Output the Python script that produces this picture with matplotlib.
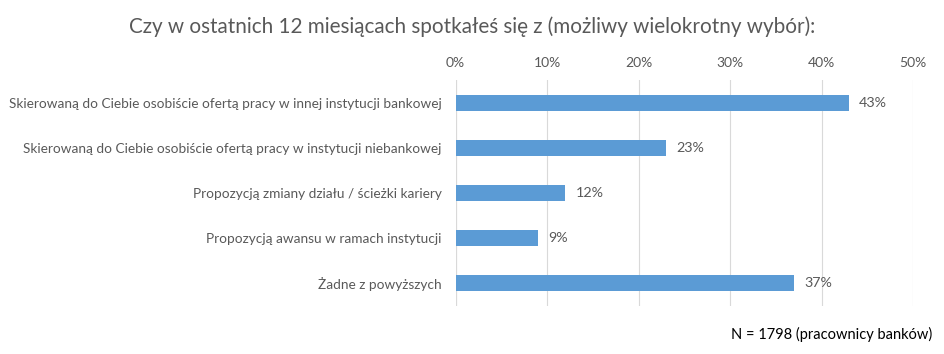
import matplotlib.pyplot as plt
from matplotlib.ticker import FuncFormatter

categories = [
    'Skierowaną do Ciebie osobiście ofertą pracy w innej instytucji bankowej',
    'Skierowaną do Ciebie osobiście ofertą pracy w instytucji niebankowej',
    'Propozycją zmiany działu / ścieżki kariery',
    'Propozycją awansu w ramach instytucji',
    'Żadne z powyższych',
]
values = [43, 23, 12, 9, 37]
ticks = [0, 10, 20, 30, 40, 50]

plt.rcParams['font.family'] = ['Lato', 'DejaVu Sans']
grey = '#595959'

fig = plt.figure(figsize=(9.45, 3.54), dpi=100)
ax = fig.add_axes([0.4822, 0.137, 0.4839, 0.636])

y = list(range(len(categories)))
ax.barh(y, values, height=0.35, color='#5B9BD5', zorder=3)
for yi, v in zip(y, values):
    ax.text(v + 1.1, yi, f'{v}%', va='center', ha='left', fontsize=10.3, color=grey)

ax.set_ylim(len(categories) - 0.5, -0.5)
ax.set_xlim(0, 50)
ax.set_yticks(y)
ax.set_yticklabels(categories, fontsize=9.8, color=grey)
ax.set_xticks(ticks)
ax.xaxis.set_major_formatter(FuncFormatter(lambda v, p: f'{v:.0f}%'))
ax.xaxis.tick_top()
ax.tick_params(axis='x', colors=grey, labelsize=10, length=0, pad=8)
ax.tick_params(axis='y', length=0, pad=10)
ax.grid(axis='x', color='#D9D9D9', linewidth=0.8, zorder=0)
for s in ax.spines.values():
    s.set_visible(False)
ax.axvline(0, color='#D9D9D9', linewidth=0.8, zorder=1)

fig.text(0.5, 0.925, 'Czy w ostatnich 12 miesiącach spotkałeś się z (możliwy wielokrotny wybór):',
         ha='center', va='center', fontsize=14.9, color=grey)
fig.text(0.987, 0.055, 'N = 1798 (pracownicy banków)', ha='right', va='center',
         fontsize=10.5, color='black')

fig.savefig('out.png', dpi=100)
